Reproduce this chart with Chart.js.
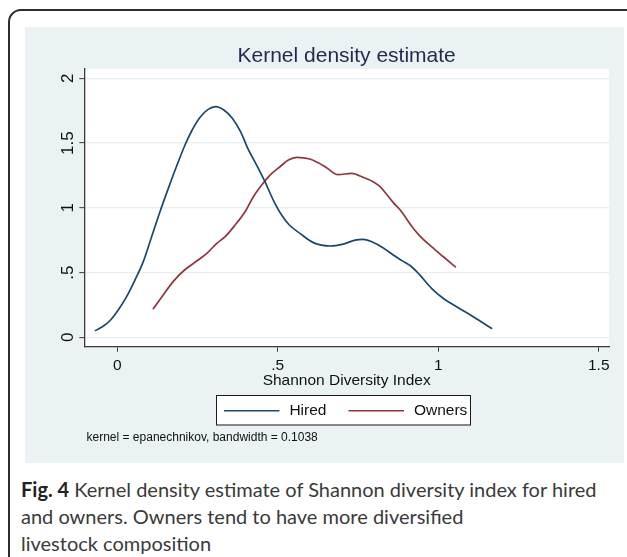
<!DOCTYPE html>
<html>
<head>
<meta charset="utf-8">
<script src="https://cdn.jsdelivr.net/npm/chart.js@4.4.1/dist/chart.umd.min.js"></script>
<style>
  html, body { margin: 0; padding: 0; width: 627px; height: 557px; overflow: hidden; background: #fff; }
  #frame { position: absolute; left: 8px; top: 9px; width: 660px; height: 600px; border: 2px solid #2e2e2e; border-radius: 13px; box-sizing: border-box; }
  #panel { position: absolute; left: 25px; top: 27px; width: 599px; height: 436px; background: #eaf2f3; }
  #panel canvas { display: block; }
  #caption { position: absolute; left: 21px; top: 476px; width: 606px; font-family: Lato, "Open Sans", sans-serif; font-size: 20px; line-height: 27px; color: #3a3a3a; white-space: nowrap; }
  #caption b { color: #222; }
</style>
</head>
<body>
<div id="frame"></div>
<div id="panel"><canvas id="kde" width="599" height="436"></canvas></div>
<div id="caption"><b>Fig. 4</b> Kernel density estimate of Shannon diversity index for hired<br>and owners. Owners tend to have more diversified<br>livestock composition</div>
<script>
// Density curves: Shannon diversity index (x) against estimated density (y)
const seriesNames = ['Hired', 'Owners'];

const hiredX = [-0.070, -0.049, -0.023, 0.003, 0.029, 0.055, 0.081, 0.107, 0.133, 0.159,
                0.185, 0.211, 0.232, 0.258, 0.283, 0.307, 0.332, 0.359, 0.384, 0.408,
                0.434, 0.460, 0.486, 0.512, 0.536, 0.569, 0.611, 0.663, 0.704, 0.741,
                0.766, 0.793, 0.829, 0.860, 0.888, 0.917, 0.943, 0.979, 1.016, 1.057,
                1.109, 1.168];
const hiredY = [0.050, 0.077, 0.128, 0.210, 0.314, 0.442, 0.584, 0.777, 0.970, 1.150,
                1.323, 1.485, 1.595, 1.699, 1.760, 1.781, 1.755, 1.690, 1.588, 1.452,
                1.330, 1.202, 1.060, 0.944, 0.867, 0.803, 0.731, 0.705, 0.720, 0.751,
                0.757, 0.738, 0.690, 0.635, 0.590, 0.545, 0.480, 0.378, 0.300, 0.236,
                0.159, 0.066];

const ownersX = [0.111, 0.143, 0.174, 0.206, 0.252, 0.279, 0.310, 0.336, 0.367, 0.398,
                 0.424, 0.450, 0.476, 0.507, 0.533, 0.559, 0.600, 0.626, 0.652, 0.688,
                 0.730, 0.766, 0.797, 0.818, 0.839, 0.860, 0.881, 0.922, 0.943, 0.979,
                 1.016, 1.055];
const ownersY = [0.216, 0.327, 0.430, 0.512, 0.597, 0.648, 0.726, 0.777, 0.867, 0.970,
                 1.086, 1.176, 1.253, 1.317, 1.369, 1.390, 1.377, 1.348, 1.310, 1.256,
                 1.266, 1.236, 1.202, 1.165, 1.105, 1.040, 0.985, 0.842, 0.782, 0.700,
                 0.622, 0.540];

const xTicks = [0, 0.5, 1, 1.5];
const yTicks = [0, 0.5, 1, 1.5, 2];

const chartTitle = 'Kernel density estimate';
const xTitle = 'Shannon Diversity Index';
const noteText = 'kernel = epanechnikov, bandwidth = 0.1038';

const FONT = '"Liberation Sans", Arial, Helvetica, sans-serif';
const INK = '#111111';
const AXIS = '#3a3a3a';

// Stata-style number labels: ".5" instead of "0.5"
function stataNum(v) {
  return String(v).replace(/^0\./, '.');
}

const toPoints = (xs, ys) => xs.map((x, i) => ({ x: x, y: ys[i] }));

// White plot region, rotated y labels, heading, boxed legend and kernel note
const stataDecor = {
  id: 'stataDecor',
  beforeDraw(chart) {
    const { ctx, chartArea: a } = chart;
    ctx.save();
    ctx.fillStyle = '#ffffff';
    ctx.fillRect(a.left, a.top, a.right - a.left, a.bottom - a.top);
    ctx.restore();
  },
  afterDraw(chart) {
    const { ctx, chartArea: a } = chart;
    const yScale = chart.scales.y;
    const cx = (a.left + a.right) / 2;
    ctx.save();

    // y tick labels, turned to read upwards
    ctx.fillStyle = INK;
    ctx.font = '17px ' + FONT;
    ctx.textAlign = 'center';
    ctx.textBaseline = 'alphabetic';
    yTicks.forEach(v => {
      const py = yScale.getPixelForValue(v);
      ctx.save();
      ctx.translate(a.left - 11, py);
      ctx.rotate(-Math.PI / 2);
      ctx.fillText(stataNum(v), 0, 0);
      ctx.restore();
    });

    // heading
    ctx.fillStyle = '#1d2c4e';
    ctx.font = '21px ' + FONT;
    ctx.textAlign = 'center';
    ctx.textBaseline = 'alphabetic';
    ctx.fillText(chartTitle, cx, 35);

    // legend box
    ctx.font = '15.5px ' + FONT;
    ctx.textBaseline = 'middle';
    ctx.textAlign = 'left';
    const lineLen = 55.5, gapLT = 10, gapItems = 22, padL = 8, padR = 3;
    const items = chart.data.datasets.map(ds => ({ label: ds.label, color: ds.borderColor, w: ctx.measureText(ds.label).width }));
    let total = padL + padR;
    items.forEach((it, i) => { total += lineLen + gapLT + it.w + (i ? gapItems : 0); });
    const boxL = cx - 3.5 - total / 2, boxT = 368, boxH = 29.5;
    const midY = boxT + boxH / 2;
    ctx.fillStyle = '#ffffff';
    ctx.fillRect(boxL, boxT, total, boxH);
    ctx.strokeStyle = '#1a1a1a';
    ctx.lineWidth = 1;
    ctx.strokeRect(Math.round(boxL) + 0.5, boxT + 0.5, Math.round(total), boxH);
    let x = boxL + padL;
    items.forEach((it, i) => {
      if (i) x += gapItems;
      ctx.strokeStyle = it.color;
      ctx.lineWidth = 1.6;
      ctx.beginPath();
      ctx.moveTo(x, midY + 1);
      ctx.lineTo(x + lineLen, midY + 1);
      ctx.stroke();
      x += lineLen + gapLT;
      ctx.fillStyle = INK;
      ctx.fillText(it.label, x, midY + 1);
      x += it.w;
    });

    // kernel note
    ctx.font = '12px ' + FONT;
    ctx.fillStyle = INK;
    ctx.textAlign = 'left';
    ctx.textBaseline = 'middle';
    ctx.fillText(noteText, 61.5, 411);

    ctx.restore();
  }
};

new Chart(document.getElementById('kde'), {
  type: 'line',
  data: {
    datasets: [
      { label: seriesNames[0], data: toPoints(hiredX, hiredY), borderColor: '#1a476f', borderWidth: 1.7 },
      { label: seriesNames[1], data: toPoints(ownersX, ownersY), borderColor: '#90353b', borderWidth: 1.7 }
    ]
  },
  options: {
    responsive: false,
    animation: false,
    layout: { padding: { top: 42, right: 15, left: 0, bottom: 0 } },
    elements: {
      point: { radius: 0 },
      line: { cubicInterpolationMode: 'monotone', fill: false }
    },
    plugins: {
      legend: { display: false },
      title: { display: false },
      tooltip: { enabled: false }
    },
    scales: {
      x: {
        type: 'linear',
        min: -0.1028,
        max: 1.532,
        afterBuildTicks: s => { s.ticks = xTicks.map(v => ({ value: v })); },
        afterFit: s => { s.height = 116.3; },
        grid: { drawOnChartArea: false, drawTicks: true, tickLength: 5, tickColor: AXIS, tickWidth: 1 },
        border: { display: true, color: AXIS, width: 1.3 },
        ticks: {
          color: INK,
          font: { family: FONT, size: 15.5 },
          padding: 5,
          maxRotation: 0,
          autoSkip: false,
          callback: v => stataNum(v)
        },
        title: {
          display: true,
          text: xTitle,
          color: INK,
          font: { family: FONT, size: 15.5 },
          padding: { top: 0, bottom: 73 }
        }
      },
      y: {
        type: 'linear',
        min: -0.0726,
        max: 2.072,
        afterBuildTicks: s => { s.ticks = yTicks.map(v => ({ value: v })); },
        afterFit: s => { s.width = 59.3; },
        grid: { color: '#e6eef0', lineWidth: 1.3, drawTicks: true, tickLength: 5, tickColor: AXIS, tickWidth: 1 },
        border: { display: true, color: AXIS, width: 1.3 },
        ticks: { display: false }
      }
    }
  },
  plugins: [stataDecor]
});
</script>
</body>
</html>
